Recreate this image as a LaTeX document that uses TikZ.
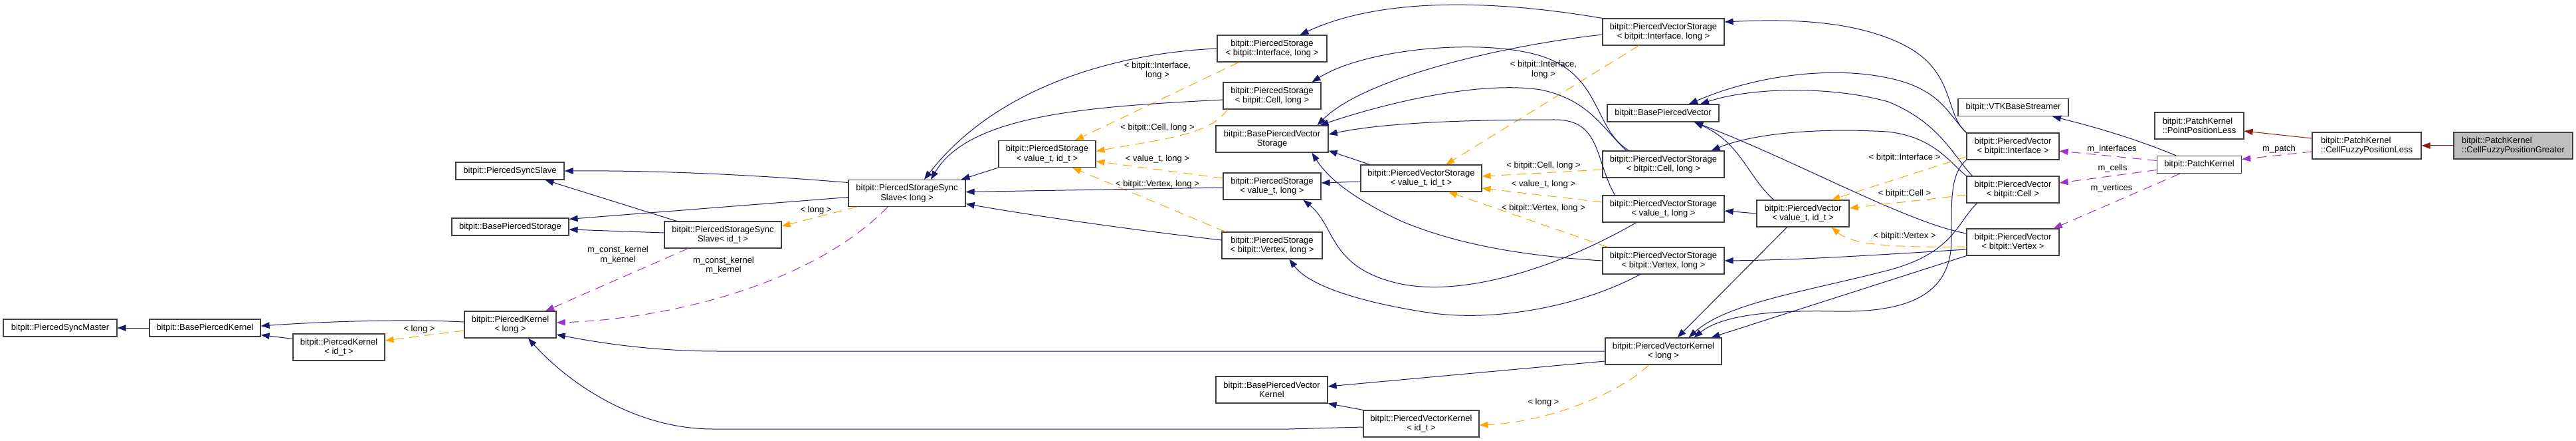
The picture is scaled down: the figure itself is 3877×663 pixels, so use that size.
\documentclass[tikz,border=0pt]{standalone}
\usepackage{fontspec}
\setmainfont{Liberation Sans}
\usetikzlibrary{arrows.meta}
\definecolor{inhblue}{RGB}{25,25,112}
\definecolor{tplorange}{RGB}{255,165,0}
\definecolor{usepurple}{RGB}{154,50,205}
\definecolor{privred}{RGB}{139,26,26}
\definecolor{boxgray}{RGB}{191,191,191}

\begin{document}
\begin{tikzpicture}[x=1pt, y=-1pt, font=\fontsize{13pt}{14.3pt}\selectfont,
  >={Triangle[length=13pt, width=9.5pt]},
  cls/.style={rectangle, draw=black!75, line width=1.2pt, fill=white, align=center,
              inner sep=0pt, minimum height=40pt},
  one/.style={minimum height=26pt},
  cur/.style={cls, fill=boxgray},
  inh/.style={->, draw=inhblue, line width=1pt},
  priv/.style={->, draw=privred, line width=1pt},
  usage/.style={->, draw=usepurple, line width=1pt, dash pattern=on 14pt off 9pt},
  tpl/.style={->, draw=tplorange, line width=1pt, dash pattern=on 14pt off 9pt},
  lbl/.style={align=center, inner sep=0pt}]
  \path[use as bounding box, fill=white] (0,0) rectangle (3877,663);

  \node[cls, one, minimum width=171pt] (SyncMaster) at (90.5,493) {bitpit::PiercedSyncMaster};
  \node[cls, one, minimum width=167pt] (BaseKernel) at (308.5,493) {bitpit::BasePiercedKernel};
  \node[cls, minimum width=138pt] (KernelId) at (510,522) {bitpit::PiercedKernel\\< id\_t >};
  \node[cls, minimum width=138pt] (KernelLong) at (768,488) {bitpit::PiercedKernel\\< long >};
  \node[cls, one, minimum width=163pt] (SyncSlave) at (767.5,257) {bitpit::PiercedSyncSlave};
  \node[cls, one, minimum width=176pt] (BaseStorage) at (768,341) {bitpit::BasePiercedStorage};
  \node[cls, minimum width=176pt] (SlaveId) at (1088,353) {bitpit::PiercedStorageSync\\Slave< id\_t >};
  \node[cls, minimum width=176pt] (SlaveLong) at (1365,290.5) {bitpit::PiercedStorageSync\\Slave< long >};
  \node[cls, minimum width=146pt] (StorageId) at (1576,231.5) {bitpit::PiercedStorage\\< value\_t, id\_t >};
  \node[cls, minimum width=165pt] (StorageIntf) at (1914.5,73) {bitpit::PiercedStorage\\< bitpit::Interface, long >};
  \node[cls, minimum width=147pt] (StorageCell) at (1914.5,144) {bitpit::PiercedStorage\\< bitpit::Cell, long >};
  \node[cls, minimum width=169pt] (BaseVecStorage) at (1914.5,209) {bitpit::BasePiercedVector\\Storage};
  \node[cls, minimum width=147pt] (StorageVal) at (1914.5,280) {bitpit::PiercedStorage\\< value\_t, long >};
  \node[cls, minimum width=151pt] (StorageVtx) at (1914.5,369) {bitpit::PiercedStorage\\< bitpit::Vertex, long >};
  \node[cls, minimum width=168pt] (BaseVecKernel) at (1914,586) {bitpit::BasePiercedVector\\Kernel};
  \node[cls, minimum width=182pt] (VecStorageId) at (2139,268) {bitpit::PiercedVectorStorage\\< value\_t, id\_t >};
  \node[cls, minimum width=174pt] (VecKernelId) at (2139,637) {bitpit::PiercedVectorKernel\\< id\_t >};
  \node[cls, minimum width=183pt] (VecStorageIntf) at (2503.5,48) {bitpit::PiercedVectorStorage\\< bitpit::Interface, long >};
  \node[cls, one, minimum width=168pt] (BaseVec) at (2503,170) {bitpit::BasePiercedVector};
  \node[cls, minimum width=183pt] (VecStorageCell) at (2503.5,247) {bitpit::PiercedVectorStorage\\< bitpit::Cell, long >};
  \node[cls, minimum width=183pt] (VecStorageVal) at (2503.5,314) {bitpit::PiercedVectorStorage\\< value\_t, long >};
  \node[cls, minimum width=183pt] (VecStorageVtx) at (2503.5,392) {bitpit::PiercedVectorStorage\\< bitpit::Vertex, long >};
  \node[cls, minimum width=175pt] (VecKernelLong) at (2503.5,528) {bitpit::PiercedVectorKernel\\< long >};
  \node[cls, minimum width=139pt] (VecId) at (2713.5,321) {bitpit::PiercedVector\\< value\_t, id\_t >};
  \node[cls, one, minimum width=166pt] (Streamer) at (3030,161.5) {bitpit::VTKBaseStreamer};
  \node[cls, minimum width=139pt] (VecIntf) at (3029.5,220) {bitpit::PiercedVector\\< bitpit::Interface >};
  \node[cls, minimum width=139pt] (VecCell) at (3029.5,285) {bitpit::PiercedVector\\< bitpit::Cell >};
  \node[cls, minimum width=139pt] (VecVtx) at (3029.5,364) {bitpit::PiercedVector\\< bitpit::Vertex >};
  \node[cls, align=left, minimum width=134pt] (PointLess) at (3310,189) {bitpit::PatchKernel\\::PointPositionLess};
  \node[cls, one, minimum width=127pt] (Patch) at (3310,247.5) {bitpit::PatchKernel};
  \node[cls, align=left, minimum width=164pt] (FuzzyLess) at (3562,219) {bitpit::PatchKernel\\::CellFuzzyPositionLess};
  \node[cur, align=left, minimum width=179pt] (FuzzyGreater) at (3782.5,219) {bitpit::PatchKernel\\::CellFuzzyPositionGreater};

  \draw[inh] (BaseKernel.west) -- (SyncMaster.east);
  \draw[inh] ([yshift=4pt]KernelLong.west) .. controls (600,479) and (480,484) .. ([yshift=3pt]BaseKernel.east);
  \draw[inh] ([yshift=-8pt]KernelId.north west) -- ([yshift=3pt]BaseKernel.south east);
  \draw[tpl] ([yshift=-9pt]KernelLong.west) -- ([yshift=10pt]KernelId.east);
  \node[lbl] (lKernel) at (631,495) {< long >};

  \draw[inh] ([yshift=16pt]SlaveLong.west) .. controls (1150,264) and (1000,256) .. (SyncSlave.east);
  \draw[inh] ([yshift=-6pt]SlaveLong.west) -- ([yshift=-2pt]BaseStorage.north east);
  \draw[inh] ([xshift=19pt]SlaveId.north west) -- ([xshift=53pt]SyncSlave.south);
  \draw[inh] ([yshift=3pt]SlaveId.west) -- ([yshift=-4pt]BaseStorage.east);
  \draw[tpl] ([xshift=13pt]SlaveLong.south west) -- ([yshift=13pt]SlaveId.east);
  \node[lbl] (lSlave) at (1228,316) {< long >};
  \draw[usage] ([xshift=36pt]SlaveId.south west) -- ([xshift=53pt]KernelLong.north);
  \node[lbl] (lSlaveIdKernel) at (930,383.5) {m\_const\_kernel\\m\_kernel};
  \draw[usage] ([xshift=-29pt]SlaveLong.south) .. controls (1220,430) and (1000,480) .. ([yshift=3pt]KernelLong.east);
  \node[lbl] (lSlaveLongKernel) at (1089,399) {m\_const\_kernel\\m\_kernel};

  \draw[inh] (VecKernelLong.west) -- (1080,528) .. controls (980,528) and (900,515) .. ([yshift=-15pt]KernelLong.east);
  \draw[inh] ([yshift=-5pt]VecKernelId.west) -- (1940,645) -- (1073,645) .. controls (950,645) and (850,570) .. ([xshift=27pt]KernelLong.south);
  \draw[inh] (VecKernelId.north west) -- (BaseVecKernel.south east);
  \draw[inh] ([yshift=-15pt]VecKernelLong.west) -- ([yshift=5pt]BaseVecKernel.east);
  \draw[tpl] ([xshift=-22pt]VecKernelLong.south) .. controls (2440,590) and (2330,635) .. ([yshift=-2pt]VecKernelId.east);
  \node[lbl] (lVecKernel) at (2323,605) {< long >};

  \draw[inh] ([xshift=-24pt]VecId.south) -- ([xshift=21pt]VecKernelLong.north);
  \draw[inh] (VecIntf.south west) .. controls (2935,262) and (2937,300) .. (2937,360)
    .. controls (2937,450) and (2860,470) .. (2760,468) .. controls (2660,466) and (2590,475) .. ([xshift=46pt]VecKernelLong.north);
  \draw[inh] ([xshift=-54pt]VecCell.south) .. controls (2945,335) and (2940,380) .. (2843,406)
    .. controls (2720,438) and (2600,455) .. ([xshift=38pt]VecKernelLong.north);
  \draw[inh] (VecVtx.south west) -- ([xshift=72pt]VecKernelLong.north);

  \draw[inh] (VecIntf.north west) .. controls (2925,170) and (2945,105) .. (2860,65)
    .. controls (2790,32) and (2700,28) .. ([yshift=15pt]VecStorageIntf.east);
  \draw[inh] (VecIntf.north west) .. controls (2930,170) and (2920,130) .. (2830,115)
    .. controls (2760,102) and (2650,110) .. ([xshift=39pt]BaseVec.north);
  \draw[inh] ([xshift=9pt]VecCell.north west) .. controls (2940,235) and (2920,185) .. (2842,153)
    .. controls (2760,130) and (2640,130) .. ([xshift=56pt]BaseVec.north);
  \draw[inh] (VecCell.north west) .. controls (2935,245) and (2910,205) .. (2840,198)
    .. controls (2740,192) and (2640,200) .. ([xshift=72pt]VecStorageCell.north);
  \draw[inh] ([xshift=-44pt]VecId.north) .. controls (2630,265) and (2620,215) .. ([xshift=47pt]BaseVec.south);
  \draw[inh] ([yshift=13pt]VecVtx.west) .. controls (2870,335) and (2700,240) .. ([xshift=47pt]BaseVec.south);
  \draw[inh] ([yshift=-11pt]VecVtx.west) .. controls (2800,385) and (2700,391) .. (VecStorageVtx.east);
  \draw[inh] (VecId.west) -- ([yshift=-3pt]VecStorageVal.east);

  \draw[tpl] ([yshift=5pt]VecIntf.south west) -- ([xshift=43pt]VecId.north);
  \node[lbl] (lVecIntf) at (2866.5,237) {< bitpit::Interface >};
  \draw[tpl] ([yshift=-8pt]VecCell.west) -- ([yshift=8pt]VecId.east);
  \node[lbl] (lVecCell) at (2866.5,291) {< bitpit::Cell >};
  \draw[tpl] ([yshift=-7pt]VecVtx.west) .. controls (2860,372) and (2790,370) .. ([xshift=43pt]VecId.south);
  \node[lbl] (lVecVtx) at (2866.5,355) {< bitpit::Vertex >};

  \draw[tpl] ([xshift=-37pt]VecStorageIntf.south) -- ([xshift=37pt]VecStorageId.north);
  \node[lbl] (lVecStorageIntf) at (2323,104.5) {< bitpit::Interface,\\long >};
  \draw[tpl] ([yshift=-8pt]VecStorageCell.west) -- ([yshift=3pt]VecStorageId.east);
  \node[lbl] (lVecStorageCell) at (2323,249) {< bitpit::Cell, long >};
  \draw[tpl] ([yshift=10pt]VecStorageVal.west) -- ([yshift=-15pt]VecStorageId.east);
  \node[lbl] (lVecStorageVal) at (2323,277) {< value\_t, long >};
  \draw[tpl] ([xshift=8pt]VecStorageVtx.north west) -- ([xshift=41pt]VecStorageId.south);
  \node[lbl] (lVecStorageVtx) at (2323,313) {< bitpit::Vertex, long >};

  \draw[inh] (VecStorageIntf.north west) .. controls (2250,0) and (2080,-5) .. ([xshift=42pt]StorageIntf.north);
  \draw[inh] ([yshift=-4pt]VecStorageIntf.west) .. controls (2250,70) and (2050,120) .. ([xshift=68pt]BaseVecStorage.north);
  \draw[inh] ([xshift=-52pt]VecStorageCell.north) .. controls (2400,195) and (2410,120) .. (2330,88)
    .. controls (2250,56) and (2060,70) .. ([xshift=60pt]StorageCell.north);
  \draw[inh] ([xshift=-56pt]VecStorageCell.north) .. controls (2410,190) and (2390,150) .. (2319,135)
    .. controls (2220,120) and (2070,160) .. ([xshift=72pt]BaseVecStorage.north);
  \draw[inh] ([xshift=-73pt]VecStorageVal.north) .. controls (2400,240) and (2410,180) .. (2340,180)
    .. controls (2200,180) and (2080,185) .. ([yshift=7pt]BaseVecStorage.east);
  \draw[inh] ([xshift=14pt]VecStorageId.north west) -- ([yshift=3pt]BaseVecStorage.south east);
  \draw[inh] ([yshift=-5pt]VecStorageId.west) -- ([yshift=5pt]StorageVal.east);
  \draw[inh] (VecStorageVtx.west) .. controls (2300,385) and (2200,370) .. (2110,333)
    .. controls (2040,300) and (2000,270) .. ([xshift=60pt]BaseVecStorage.south);
  \draw[inh] ([xshift=-41pt]VecStorageVal.south) .. controls (2350,400) and (2200,450) .. (2100,425)
    .. controls (2000,400) and (2010,340) .. ([xshift=47pt]StorageVal.south);
  \draw[inh] ([xshift=-35pt]VecStorageVtx.south) .. controls (2380,460) and (2250,485) .. (2150,470)
    .. controls (2050,455) and (1970,430) .. ([xshift=26pt]StorageVtx.south);

  \draw[tpl] ([xshift=-50pt]StorageIntf.south) -- ([xshift=42pt]StorageId.north);
  \node[lbl] (lStorageIntf) at (1742,106) {< bitpit::Interface,\\long >};
  \draw[tpl] ([xshift=7pt]StorageCell.south west) .. controls (1820,205) and (1740,210) .. ([yshift=4pt]StorageId.east);
  \node[lbl] (lStorageCell) at (1742,192) {< bitpit::Cell, long >};
  \draw[tpl] ([yshift=12pt]StorageVal.west) -- ([yshift=-11pt]StorageId.east);
  \node[lbl] (lStorageVal) at (1742,239) {< value\_t, long >};
  \draw[tpl] ([xshift=6pt]StorageVtx.north west) -- ([xshift=38pt]StorageId.south);
  \node[lbl] (lStorageVtx) at (1742,277) {< bitpit::Vertex, long >};

  \draw[inh] (StorageIntf.west) .. controls (1680,80) and (1500,130) .. ([xshift=26pt]SlaveLong.north);
  \draw[inh] ([yshift=-6pt]StorageCell.west) .. controls (1650,160) and (1460,170) .. ([xshift=36pt]SlaveLong.north);
  \draw[inh] (StorageId.south west) -- ([xshift=-7pt]SlaveLong.north east);
  \draw[inh] ([yshift=-2pt]StorageVal.west) -- ([yshift=2pt]SlaveLong.east);
  \draw[inh] ([yshift=8pt]StorageVtx.west) .. controls (1700,345) and (1560,325) .. ([yshift=-16pt]SlaveLong.east);

  \draw[inh] ([xshift=29pt]Patch.north west) .. controls (3230,215) and (3170,195) .. ([xshift=59pt]Streamer.south);
  \draw[usage] ([yshift=6pt]Patch.west) -- ([yshift=-7pt]VecIntf.east);
  \node[lbl] (lInterfaces) at (3178.5,224) {m\_interfaces};
  \draw[usage] ([yshift=-8pt]Patch.west) -- ([yshift=10pt]VecCell.east);
  \node[lbl] (lCells) at (3179.5,253) {m\_cells};
  \draw[usage] ([xshift=35pt]Patch.south west) -- ([xshift=-9pt]VecVtx.north east);
  \node[lbl] (lVertices) at (3178,283) {m\_vertices};
  \draw[usage] ([yshift=-9pt]FuzzyLess.west) -- ([yshift=8pt]Patch.east);
  \node[lbl] (lPatch) at (3430,224) {m\_patch};
  \draw[priv] ([yshift=11pt]FuzzyLess.west) -- ([yshift=-8pt]PointLess.east);
  \draw[priv] (FuzzyGreater.west) -- (FuzzyLess.east);
\end{tikzpicture}
\end{document}
